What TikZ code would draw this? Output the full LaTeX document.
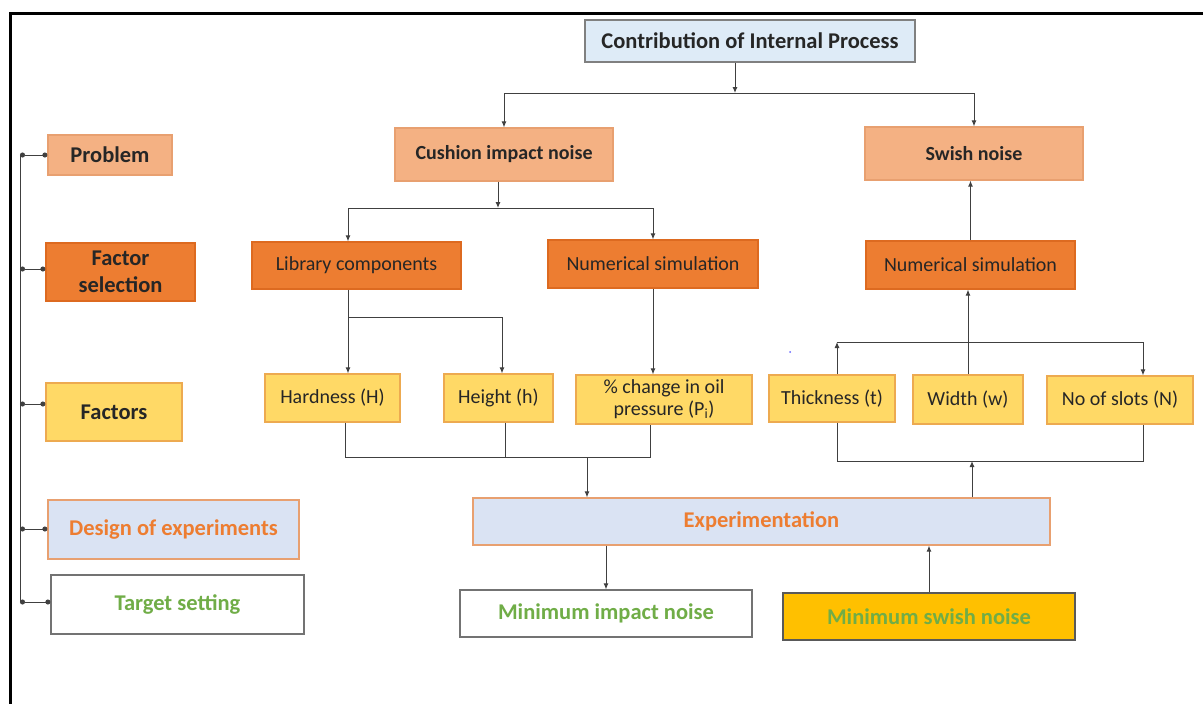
\documentclass[tikz,border=0pt]{standalone}
\usepackage{fontspec}
\setmainfont{Carlito}
\usetikzlibrary{arrows.meta}
\definecolor{lorange}{HTML}{F4B183}
\definecolor{lorangeb}{HTML}{E8A070}
\definecolor{dorange}{HTML}{ED7D31}
\definecolor{dorangeb}{HTML}{DD6A20}
\definecolor{yel}{HTML}{FFD966}
\definecolor{yelb}{HTML}{EDAA50}
\definecolor{lblue}{HTML}{DAE3F3}
\definecolor{tblue}{HTML}{DEEBF7}
\definecolor{gold}{HTML}{FFC000}
\definecolor{grn}{HTML}{70AD47}
\definecolor{txt}{HTML}{262626}
\definecolor{ln}{HTML}{404040}
\begin{document}
\begin{tikzpicture}[x=1pt,y=-1pt,
  box/.style={draw, line width=1.2pt, inner sep=1pt, align=center, text=txt, font=\fontsize{20}{23}\selectfont},
  bbox/.style={box, font=\bfseries\fontsize{20}{23}\selectfont},
  big/.style={box, font=\bfseries\fontsize{22.5}{26}\selectfont},
  c1/.style={fill=lorange, draw=lorangeb},
  c2/.style={fill=dorange, draw=dorangeb},
  c3/.style={fill=yel, draw=yelb},
  c4/.style={fill=lblue, draw=lorangeb, text=dorange},
  wbox/.style={fill=white, draw=gray!90!black, text=grn},
  sz/.style n args={2}{minimum width=#1, minimum height=#2},
  ln/.style={draw=ln, line width=1pt},
  arr/.style={ln, -{Latex[length=6pt,width=5pt]}},
  bul/.style={ln, {Circle[length=5pt]}-{Circle[length=5pt]}}]
\useasboundingbox (0,0) rectangle (1203,704);
\fill[white] (0,0) rectangle (1203,704);
% frame
\draw[line width=3pt, black] (10,704) -- (10,13) -- (1203,13);
% main nodes
\node[big, fill=tblue, draw=gray, sz={330}{42}] (top) at (750,41) {Contribution of Internal Process};
\node[bbox, c1, sz={218}{53}] (cush) at (504,154.5) {Cushion impact noise};
\node[bbox, c1, sz={218}{53}] (swish) at (974,153.5) {Swish noise};
\node[box, c2, sz={209}{47}] (lib) at (356.5,265.5) {Library components};
\node[box, c2, sz={210}{48}] (nsl) at (653,264) {Numerical simulation};
\node[box, c2, sz={209}{48}] (nsr) at (970.5,265) {Numerical simulation};
\node[box, c3, sz={135}{48}] (hard) at (332.5,398) {Hardness (H)};
\node[box, c3, sz={109}{48}] (hgt) at (498.5,398) {Height (h)};
\node[box, c3, sz={176}{49}, font=\fontsize{20}{22}\selectfont] (pct) at (664,399.5) {\% change in oil\\pressure (P\textsubscript{i})};
\node[box, c3, sz={126}{47}] (thick) at (832,398.5) {Thickness (t)};
\node[box, c3, sz={110}{49}] (wid) at (968,399.5) {Width (w)};
\node[box, c3, sz={146}{48}] (slots) at (1120,400) {No of slots (N)};
\node[big, c4, sz={577}{47}] (exp) at (761.5,521.5) {Experimentation};
\node[big, wbox, sz={292}{47}] (minimp) at (606,613.5) {Minimum impact noise};
\node[big, fill=gold, draw=gray!70!black, text=grn, sz={292}{47}] (minsw) at (929,616.5) {Minimum swish noise};
% left column
\node[big, c1, sz={124}{40}] (prob) at (110,155) {Problem};
\node[big, c2, sz={149}{58}, font=\bfseries\fontsize{22.5}{27}\selectfont] (fsel) at (120.5,272) {Factor\\selection};
\node[big, c3, sz={136}{58}] (fact) at (114,412) {Factors};
\node[big, c4, sz={251}{59}] (doe) at (173.5,529.5) {Design of experiments};
\node[big, wbox, sz={253}{59}] (targ) at (177.5,604.5) {Target setting};
% junction coordinates
\coordinate (j1) at (735,93);
\coordinate (j2) at (498,208);
\coordinate (xL) at (348,0);
\coordinate (j3) at (348,317);
\coordinate (j4) at (837,342);
\coordinate (j4r) at (1143,342);
\coordinate (j5) at (587,457);
\coordinate (b1) at (345,457);
\coordinate (b2) at (505,457);
\coordinate (b3) at (650,457);
\coordinate (r1) at (837,461);
\coordinate (r2) at (972,461);
\coordinate (r3) at (1143,461);
% connectors
\draw[arr] (top.south -| j1) -- (j1);
\draw[arr] (j1) -| (cush.north);
\draw[arr] (j1) -| (swish.north);
\draw[arr] (cush.south -| j2) -- (j2);
\draw[arr] (j2) -| (lib.north -| xL);
\draw[arr] (j2) -| (nsl.north);
\draw[arr] (nsr.north) -- (swish.south -| nsr.north);
\draw[arr] (lib.south -| xL) -- (hard.north -| xL);
\draw[arr] (j3) -| (hgt.north -| 502,0);
\draw[arr] (nsl.south) -- (pct.north -| nsl.south);
\draw[arr] (wid.north) -- (nsr.south -| wid.north);
\draw[arr] (thick.north -| j4) -- (j4);
\draw[arr] (j4) -- (j4r) -- (slots.north -| j4r);
\draw[ln] (hard.south -| b1) -- (b1) -- (b3) -- (pct.south -| b3);
\draw[ln] (hgt.south -| b2) -- (b2);
\draw[arr] (j5) -- (exp.north -| j5);
\draw[ln] (thick.south -| r1) -- (r1) -- (r3) -- (slots.south -| r3);
\draw[arr] (exp.north -| r2) -- (r2);
\draw[arr] (exp.south -| minimp.north) -- (minimp.north);
\draw[arr] (minsw.north) -- (exp.south -| minsw.north);
% left spine
\coordinate (s1) at (20,155);
\coordinate (s2) at (20,269);
\coordinate (s3) at (20,404);
\coordinate (s4) at (20,529);
\coordinate (s5) at (20,602);
\draw[ln] (s1) -- (s5);
\draw[bul] (s1) -- (prob.west |- s1);
\draw[bul] (s2) -- (fsel.west |- s2);
\draw[bul] (s3) -- (fact.west |- s3);
\draw[bul] (s4) -- (doe.west |- s4);
\draw[bul] (s5) -- (targ.west |- s5);
% stray dot
\fill[blue!60] (790,352) circle (1pt);
\end{tikzpicture}
\end{document}
